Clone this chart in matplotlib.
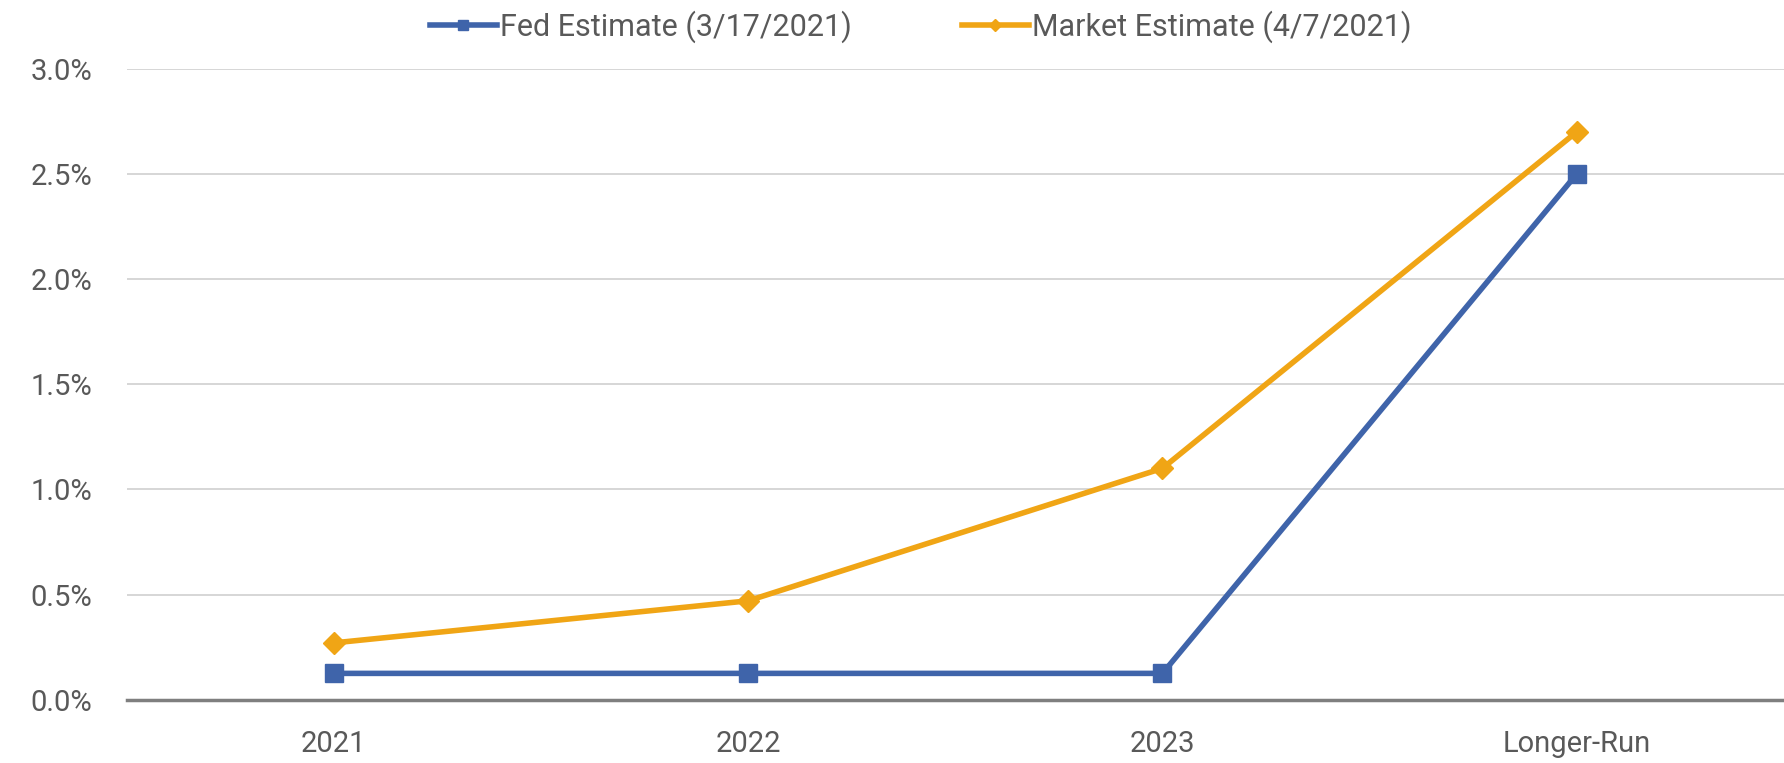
import matplotlib
matplotlib.use("Agg")
import matplotlib.pyplot as plt

categories = ["2021", "2022", "2023", "Longer-Run"]
fed = [0.125, 0.125, 0.125, 2.5]
market = [0.27, 0.47, 1.10, 2.70]
yticks = [0.0, 0.5, 1.0, 1.5, 2.0, 2.5, 3.0]

blue = "#3f64aa"
gold = "#f0a515"

plt.rcParams["font.family"] = ["Roboto", "DejaVu Sans"]

fig = plt.figure(figsize=(17.84, 7.63), dpi=100)
ax = fig.add_axes([0.071, 0.083, 0.929, 0.827])

x = range(len(categories))
ax.plot(x, fed, color=blue, lw=4, marker="s", ms=13, label="Fed Estimate (3/17/2021)", zorder=3)
ax.plot(x, market, color=gold, lw=4, marker="D", ms=11, label="Market Estimate (4/7/2021)", zorder=3)

ax.set_xlim(-0.5, 3.5)
ax.set_ylim(0, 3.0)
ax.set_xticks(list(x))
ax.set_xticklabels(categories)
ax.set_yticks(yticks)
ax.set_yticklabels([f"{v:.1f}%" for v in yticks])
ax.tick_params(length=0, labelsize=21, colors="#595959")
ax.tick_params(axis="x", pad=22)
ax.tick_params(axis="y", pad=25)

ax.grid(axis="y", color="#d0d0d0", lw=1.2)
ax.set_axisbelow(True)
for s in ["top", "right", "left"]:
    ax.spines[s].set_visible(False)
ax.spines["bottom"].set_color("#7f7f7f")
ax.spines["bottom"].set_linewidth(2.5)

fig.legend(loc="upper center", bbox_to_anchor=(0.516, 1.022), ncol=2, frameon=False,
           fontsize=22, labelcolor="#595959", handlelength=2.2, handletextpad=0.1,
           columnspacing=3.6, markerscale=0.6)

fig.savefig("out.png", dpi=100, facecolor="white")
